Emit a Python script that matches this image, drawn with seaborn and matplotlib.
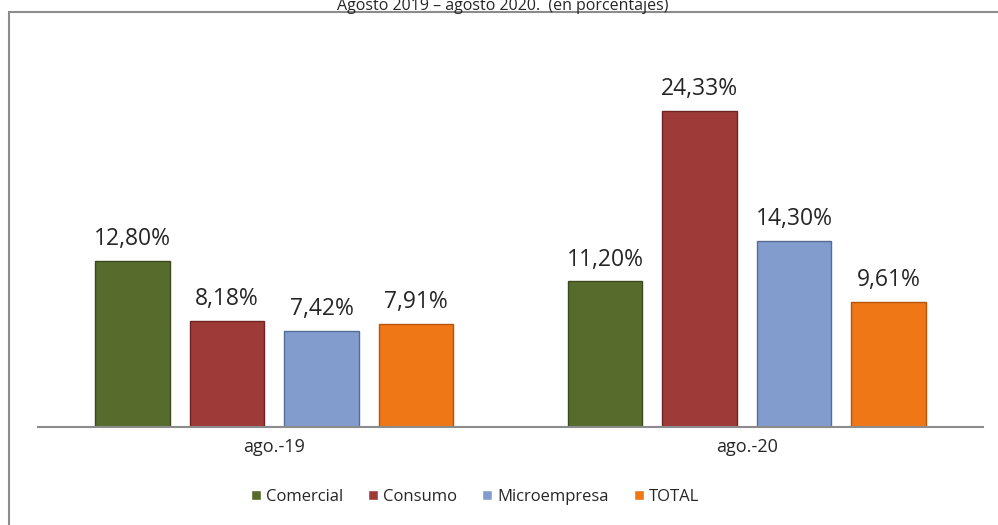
import numpy as np
import pandas as pd
import matplotlib
matplotlib.use("Agg")
import matplotlib.pyplot as plt
import seaborn as sns
from matplotlib.patches import Rectangle

#******************
#   Data
#******************
fechas = ["ago.-19", "ago.-20"]
tipos = ["Comercial", "Consumo", "Microempresa", "TOTAL"]
comercial = [12.80, 11.20]
consumo = [8.18, 24.33]
microempresa = [7.42, 14.30]
total = [7.91, 9.61]
colores = ["#576B2D", "#9E3B39", "#819CCD", "#F07716"]
bordes = ["#3B4A1C", "#6E2422", "#566C94", "#B65508"]

df = pd.DataFrame({
    "fecha": fechas * 4,
    "tipo": np.repeat(tipos, 2),
    "valor": comercial + consumo + microempresa + total,
})

#*******************
#   Aesthetics
#*******************
sns.set_style("white")
plt.rcParams["font.family"] = ["Open Sans", "DejaVu Sans"]

fig = plt.figure(figsize=(9.98, 5.25), dpi=100)
ax = fig.add_axes([38/998, 98/525, 945/998, 390/525])

sns.barplot(data=df, x="fecha", y="valor", hue="tipo", hue_order=tipos,
            order=fechas, palette=colores, width=0.8, gap=0.21,
            saturation=1, ax=ax, legend=True)

for cont, ec in zip(ax.containers, bordes):
    for p in cont:
        p.set_edgecolor(ec)
        p.set_linewidth(1.0)
    ax.bar_label(cont, labels=[f"{v:.2f}%".replace(".", ",") for v in cont.datavalues],
                 padding=7, fontsize=16.5, color="#262626")

ax.set_ylim(0, 30)
ax.set_xlim(-0.5, 1.5)
ax.set_xlabel("")
ax.set_ylabel("")
ax.set_yticks([])
ax.tick_params(axis="x", length=0, labelsize=13, colors="#262626", pad=8)
for s in ["top", "left", "right"]:
    ax.spines[s].set_visible(False)
ax.spines["bottom"].set_color("#8C8C8C")
ax.spines["bottom"].set_linewidth(1.5)

leg = ax.legend(loc="center", bbox_to_anchor=(475/998, 28/525),
                bbox_transform=fig.transFigure, ncol=4, frameon=False,
                fontsize=12, handlelength=0.6, handleheight=0.6,
                handletextpad=0.3, columnspacing=1.5)
for t in leg.get_texts():
    t.set_color("#262626")

#******************
#   Frame and title
#******************
fig.patches.append(Rectangle((9/998, -0.05), 1.2, (525-12)/525 + 0.05,
                             transform=fig.transFigure, fill=False,
                             edgecolor="#8C8C8C", linewidth=1.5))
fig.text(503/998, 1 - 6/525, "Agosto 2019 \u2013 agosto 2020.  (en porcentajes)",
         ha="center", va="center", fontsize=11.5, color="#262626")

fig.savefig("out.png", dpi=100)
